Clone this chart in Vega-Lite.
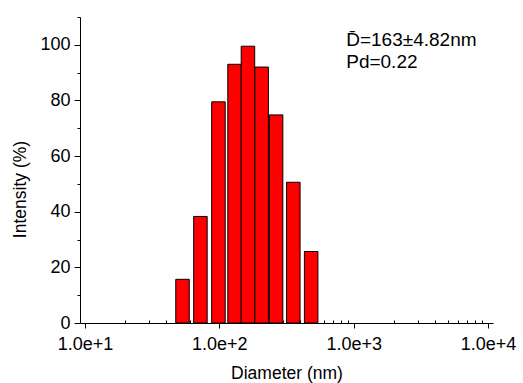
{
  "$schema": "https://vega.github.io/schema/vega-lite/v6.json",
  "width": 413,
  "height": 306,
  "autosize": {"type": "none"},
  "padding": {"left": 80, "top": 17, "right": 30, "bottom": 60},
  "background": "#ffffff",
  "config": {
    "view": {"stroke": null},
    "font": "Liberation Sans",
    "axis": {
      "grid": false,
      "domainColor": "#000000",
      "tickColor": "#000000",
      "labelColor": "#000000",
      "titleColor": "#000000",
      "labelFont": "Liberation Sans",
      "titleFont": "Liberation Sans",
      "labelFontSize": 18,
      "titleFontSize": 17.5,
      "titleFontWeight": "normal",
      "domainWidth": 1,
      "tickWidth": 1
    }
  },
  "datasets": {
    "bars": [
      {"diameter": 53.2, "intensity": 15.7},
      {"diameter": 72.3, "intensity": 38.3},
      {"diameter": 98.5, "intensity": 79.5},
      {"diameter": 129.8, "intensity": 93.0},
      {"diameter": 163.3, "intensity": 99.5},
      {"diameter": 206.5, "intensity": 92.0},
      {"diameter": 264.5, "intensity": 74.8},
      {"diameter": 355.4, "intensity": 50.6},
      {"diameter": 482.5, "intensity": 25.7}
    ],
    "notes": [
      {"label": "D\u0304=163±4.82nm", "x": 880, "y": 99.7},
      {"label": "Pd=0.22", "x": 880, "y": 91.5}
    ]
  },
  "layer": [
    {
      "data": {"name": "bars"},
      "mark": {"type": "bar", "size": 13.5, "color": "#ff0000", "stroke": "#000000", "strokeWidth": 1},
      "encoding": {
        "x": {
          "field": "diameter",
          "type": "quantitative",
          "scale": {"type": "log", "domain": [10, 10000], "nice": false},
          "axis": {
            "orient": "bottom",
            "values": [10, 100, 1000, 10000],
            "format": ".1e",
            "tickSize": 5,
            "labelPadding": 7,
            "labelFlush": false,
            "labelOverlap": false,
            "title": "Diameter (nm)",
            "titlePadding": 11
          }
        },
        "y": {
          "field": "intensity",
          "type": "quantitative",
          "scale": {"domain": [0, 110], "nice": false},
          "axis": {
            "orient": "left",
            "values": [0, 20, 40, 60, 80, 100],
            "tickSize": 6,
            "labelPadding": 4,
            "title": "Intensity (%)",
            "titlePadding": 10,
            "titleY": 172
          }
        }
      }
    },
    {
      "data": {"name": "bars"},
      "mark": {"type": "point", "opacity": 0},
      "encoding": {
        "x": {
          "field": "diameter",
          "type": "quantitative",
          "axis": {
            "orient": "bottom",
            "values": [20, 30, 40, 50, 60, 70, 80, 90, 200, 300, 400, 500, 600, 700, 800, 900, 2000, 3000, 4000, 5000, 6000, 7000, 8000, 9000],
            "labels": false,
            "domain": false,
            "tickSize": -3,
            "title": null
          }
        },
        "y": {
          "field": "intensity",
          "type": "quantitative",
          "axis": {
            "orient": "left",
            "values": [10, 30, 50, 70, 90, 110],
            "labels": false,
            "domain": false,
            "tickSize": 3,
            "title": null
          }
        }
      }
    },
    {
      "data": {"name": "notes"},
      "mark": {"type": "text", "align": "left", "baseline": "alphabetic", "fontSize": 19, "font": "Liberation Sans", "color": "#000000"},
      "encoding": {
        "x": {"field": "x", "type": "quantitative", "axis": null},
        "y": {"field": "y", "type": "quantitative", "axis": null},
        "text": {"field": "label"}
      }
    }
  ],
  "resolve": {"axis": {"x": "independent", "y": "independent"}}
}
